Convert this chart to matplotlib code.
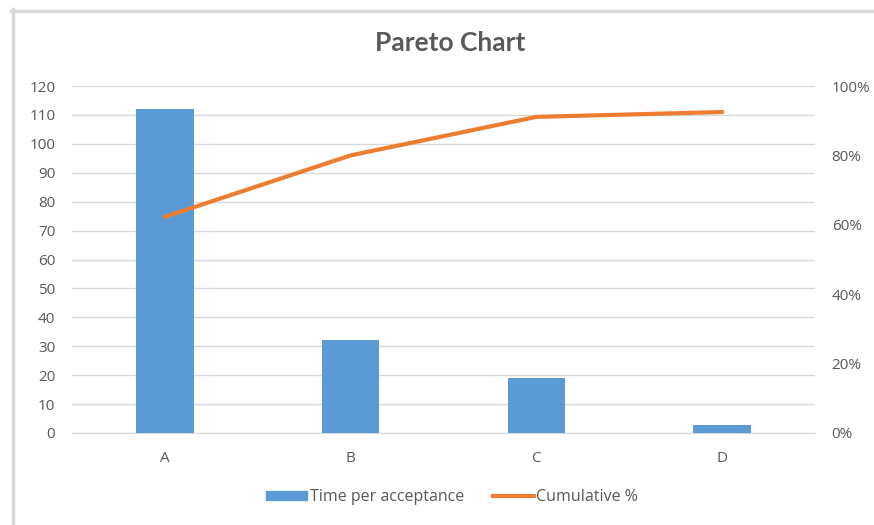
import matplotlib
matplotlib.use('Agg')
import matplotlib.pyplot as plt
from matplotlib.lines import Line2D
from matplotlib.ticker import PercentFormatter
import numpy as np

categories = ['A', 'B', 'C', 'D']
time_per_acceptance = [112, 32, 19, 2.7]
cumulative_pct = [0.623, 0.80, 0.911, 0.925]

plt.rcParams['font.family'] = ['Open Sans', 'DejaVu Sans']
gray = '#595959'
grid = '#d9d9d9'
blue = '#5b9bd5'
orange = '#ed7d31'

fig = plt.figure(figsize=(8.74, 5.25), dpi=100)
ax = fig.add_axes([72/874, 1-433/525, (815-72)/874, (433-86)/525])
ax2 = ax.twinx()

x = np.arange(len(categories))
ax.bar(x, time_per_acceptance, width=0.31, color=blue, zorder=3, label='Time per acceptance')
ax2.plot(x, cumulative_pct, color=orange, lw=3, solid_capstyle='round', label='Cumulative %')

ax.set_xlim(-0.5, 3.5)
ax.set_ylim(0, 120)
ax.set_yticks(np.arange(0, 121, 10))
ax.yaxis.grid(True, color=grid, lw=1)
ax.set_axisbelow(True)
ax.set_xticks(x)
ax.set_xticklabels(categories)
ax2.set_ylim(0, 1)
ax2.set_yticks(np.arange(0, 1.01, 0.2))
ax2.yaxis.set_major_formatter(PercentFormatter(1.0, decimals=0))

for a in (ax, ax2):
    for s in a.spines.values():
        s.set_visible(False)
    a.tick_params(length=0, colors=gray, labelsize=11)
ax.spines['bottom'].set_visible(True)
ax.spines['bottom'].set_color(grid)
ax.tick_params(axis='y', pad=12)
ax.tick_params(axis='x', pad=13)
ax2.tick_params(axis='y', pad=12)

fig.text(450/874, 1-43/525, 'Pareto Chart', ha='center', va='center',
         fontsize=19, fontweight='bold', color=gray, family=['Lato', 'DejaVu Sans'])

handles = [plt.Rectangle((0, 0), 1, 1, color=blue),
           Line2D([0], [0], color=orange, lw=3)]
leg = fig.legend(handles, ['Time per acceptance', 'Cumulative %'], loc='center',
                 bbox_to_anchor=(452/874, 1-497/525), ncol=2, frameon=False,
                 fontsize=11.5, handlelength=2.6, handleheight=0.5,
                 columnspacing=1.8, handletextpad=0.15)
for t in leg.get_texts():
    t.set_color(gray)

# screenshot frame
fig.add_artist(Line2D([12.5/874, 12.5/874], [0, 1-9/525], color=grid, lw=2.5, transform=fig.transFigure))
fig.add_artist(Line2D([11/874, 1], [1-10.5/525, 1-10.5/525], color=grid, lw=2.5, transform=fig.transFigure))

fig.savefig('out.png', dpi=100)
